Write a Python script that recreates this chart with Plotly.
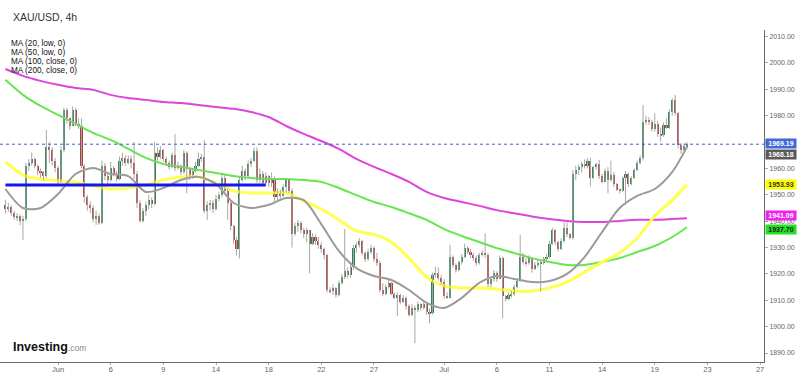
import plotly.graph_objects as go

# ---------------- data ----------------
TITLE = "XAU/USD, 4h"
MA_LABELS = ["MA (20, low, 0)", "MA (50, low, 0)", "MA (100, close, 0)", "MA (200, close, 0)"]

FIRST_OPEN = 1946.0
CLOSE = [1944.5, 1945.5, 1943, 1941.5, 1942, 1940, 1941, 1961, 1962, 1963.5,
         1961, 1959, 1958.5, 1957, 1968, 1967, 1963, 1960, 1955, 1967,
         1982, 1979, 1976, 1982, 1977, 1976, 1961, 1949, 1946, 1945,
         1941, 1942, 1939.5, 1961, 1957, 1955.5, 1960, 1958, 1956, 1963,
         1964, 1962, 1963.5, 1962, 1958, 1947, 1940, 1944, 1946, 1948,
         1946.5, 1966, 1964.3, 1967, 1963.7, 1962, 1960.5, 1965, 1960, 1961,
         1958.5, 1966, 1960, 1956.5, 1959, 1961, 1963.5, 1964.5, 1944, 1946,
         1947, 1944.5, 1948.5, 1950, 1956.5, 1951.5, 1947, 1938, 1933, 1929.5,
         1955.5, 1959, 1957, 1961.5, 1963, 1966.5, 1955.5, 1958, 1954.5, 1957,
         1954.5, 1956.5, 1949, 1951.5, 1949.5, 1953, 1955.5, 1951.5, 1935, 1938,
         1939.5, 1936.5, 1935, 1936.5, 1931.5, 1934, 1932.5, 1931, 1929.5, 1927,
         1914, 1913.5, 1914.5, 1912, 1916.5, 1919, 1921, 1919.5, 1922.5, 1930,
         1931, 1932.5, 1928, 1925.5, 1928.5, 1930, 1925.5, 1924, 1914, 1912.5,
         1915, 1916.5, 1912.5, 1911, 1912, 1909.5, 1911, 1908, 1904.5, 1907,
         1906.5, 1908.5, 1907, 1908.5, 1905.5, 1905, 1919.5, 1920.5, 1918.5, 1917,
         1911.5, 1911, 1926.5, 1923.5, 1921.5, 1924.5, 1926.5, 1930, 1928.5, 1927,
         1926, 1924, 1927, 1928, 1927, 1916, 1918, 1920.5, 1918, 1926,
         1911.5, 1910.5, 1912, 1912.5, 1915, 1917.5, 1926.5, 1924.5, 1924, 1926,
         1922, 1923.5, 1924, 1924, 1925.5, 1926.5, 1931.5, 1936.5, 1932, 1929.5,
         1932.5, 1937.5, 1935, 1933.5, 1958, 1959.5, 1960.5, 1961.5, 1961, 1963,
         1956.5, 1960.5, 1961.5, 1957, 1955, 1959, 1955.5, 1957.5, 1954, 1952,
         1951.5, 1956.5, 1958, 1954, 1956.5, 1959.5, 1962, 1964, 1977.7, 1978.5,
         1977.5, 1975, 1977, 1973, 1972.5, 1976.5, 1975.5, 1981.5, 1986, 1981,
         1969, 1967, 1968.5, 1969.19]
HIGH = [1948, 1947, 1946, 1944, 1943, 1942.5, 1942, 1962, 1963.5, 1966,
        1964, 1961.5, 1960, 1959, 1974.6, 1970, 1968, 1964, 1961, 1968.5,
        1983, 1983, 1979, 1983.5, 1983, 1979, 1979, 1961.5, 1950, 1947.5,
        1946, 1944, 1943, 1963, 1962, 1958, 1962.5, 1961, 1959, 1964.5,
        1966, 1965, 1965, 1965, 1970, 1959, 1948, 1945, 1947.5, 1950,
        1949, 1970, 1968, 1968.5, 1967.5, 1964.5, 1963, 1966, 1973, 1962.5,
        1961.5, 1967, 1966.5, 1960.5, 1960, 1962.5, 1966, 1965.5, 1970.8, 1947.5,
        1948, 1948, 1950, 1951, 1958, 1957.5, 1952.5, 1947.5, 1938.5, 1934,
        1957, 1961, 1960, 1963, 1964, 1968, 1968, 1960, 1959, 1958.5,
        1957.5, 1958.5, 1957, 1952.5, 1952, 1954, 1956, 1956, 1952.5, 1939.5,
        1940.5, 1940, 1937.5, 1937.5, 1936.5, 1935.5, 1935, 1934, 1932, 1930,
        1927.5, 1915, 1916, 1915, 1917.5, 1920, 1937, 1922.5, 1923.5, 1931,
        1932, 1933.6, 1933, 1928.5, 1929.5, 1931, 1930.5, 1928, 1925, 1916.5,
        1916, 1918, 1917, 1913, 1913, 1912.5, 1912, 1911.5, 1908.5, 1908.5,
        1908, 1909.5, 1909, 1909.5, 1909, 1907, 1920.5, 1922.7, 1922.5, 1919.5,
        1918, 1913, 1931, 1927, 1924, 1925, 1927.5, 1931.5, 1930.5, 1929.5,
        1928, 1927, 1928, 1929, 1935.4, 1928, 1919, 1921.5, 1921, 1927,
        1926.5, 1912, 1913, 1913.5, 1916, 1918.5, 1934.8, 1928, 1926, 1927,
        1925, 1924.5, 1925.5, 1925, 1926.5, 1927.5, 1932.5, 1937.5, 1937, 1932.5,
        1933.5, 1939.5, 1939.5, 1935.5, 1959.5, 1961, 1961.5, 1962.5, 1963.5, 1964,
        1964, 1961, 1962, 1963.2, 1958, 1960, 1960.5, 1963, 1958.5, 1954.5,
        1952.5, 1957, 1959, 1958.5, 1957, 1960, 1963, 1965, 1984.1, 1980,
        1979.5, 1978.5, 1980.9, 1978, 1975.5, 1977.5, 1979, 1982.5, 1986.5, 1987.9,
        1981.5, 1969.5, 1969.5, 1970]
LOW = [1943, 1943.5, 1942, 1940.5, 1940, 1938.5, 1932.9, 1940, 1959, 1961,
       1960, 1957.5, 1956.5, 1955.5, 1956.5, 1962, 1961, 1958.5, 1954, 1954.5,
       1966, 1977, 1974.6, 1976, 1976, 1975, 1960, 1947, 1944, 1943,
       1939.5, 1938.6, 1938.6, 1939, 1955.5, 1954, 1955, 1957, 1955, 1955.5,
       1961, 1961, 1961.5, 1960, 1956, 1945, 1939.5, 1939.5, 1942, 1944.5,
       1945, 1946, 1963, 1963.5, 1962.5, 1961, 1959.5, 1960, 1959, 1959.5,
       1957.5, 1958, 1950.5, 1955.5, 1956, 1958.5, 1960.5, 1962.5, 1943, 1940.5,
       1944, 1943, 1944, 1947.5, 1949, 1950, 1940.5, 1936.5, 1931.5, 1927,
       1925.9, 1955, 1955.5, 1956.5, 1960.5, 1962.5, 1954.5, 1954.5, 1953.5, 1953.5,
       1953, 1953, 1947.5, 1947.5, 1948.5, 1949, 1951, 1950.5, 1930, 1934.5,
       1936, 1935.5, 1933.5, 1932, 1920.2, 1931, 1931, 1929.5, 1928, 1925.5,
       1913, 1912.5, 1912, 1911, 1911.5, 1916, 1918, 1918.5, 1918.5, 1921.5,
       1928, 1930, 1927, 1924.5, 1925, 1927.5, 1924.5, 1923, 1913, 1911.5,
       1912, 1914.5, 1912, 1910.5, 1904, 1908.5, 1909, 1906.5, 1903.8, 1904,
       1893.7, 1905.5, 1906, 1906.5, 1904.5, 1901.3, 1904.5, 1918.5, 1917.5, 1916,
       1910.5, 1910.5, 1911, 1922.5, 1920.5, 1921, 1923.5, 1926, 1927.5, 1926,
       1925, 1923, 1923.5, 1926.5, 1926, 1915, 1915, 1917, 1917, 1918,
       1903.2, 1909.5, 1910, 1911, 1911.5, 1914.5, 1917, 1923.5, 1923, 1923.5,
       1920.5, 1921.5, 1922.5, 1913.3, 1923.5, 1924.5, 1926, 1931, 1931, 1928.5,
       1929, 1932, 1934, 1933, 1933, 1955.5, 1957.5, 1958.5, 1960, 1960,
       1953.1, 1956, 1959.5, 1956, 1954.5, 1955, 1950.6, 1955, 1953, 1951.5,
       1950.5, 1951, 1946.1, 1953, 1953.5, 1956, 1959, 1961.5, 1963, 1976.5,
       1976.5, 1974, 1974, 1972, 1970.2, 1972, 1975, 1975, 1980, 1980,
       1967.5, 1965.5, 1966, 1967.5]

# tick labels on the time axis (bar index where each day starts)
TICK_BARS = [18, 36, 54, 72, 90, 108, 126, 150, 168, 186, 204, 222, 240, 258]
TICK_TEXT = ["Jun", "6", "9", "14", "18", "22", "27", "Jul", "6", "11", "14", "19", "23", "27"]
Y_TICKS = [1890, 1900, 1910, 1920, 1930, 1940, 1950, 1960, 1970, 1980, 1990, 2000, 2010]

# moving averages, read once per trading day
MA_X = [0, 6, 12, 18, 24, 30, 36, 42, 48, 54, 60, 66, 72, 78, 84, 90, 96, 102, 108, 114,
        120, 126, 132, 138, 144, 150, 156, 162, 168, 174, 180, 186, 192, 198, 204, 210,
        216, 222, 228, 233]
MA20_LOW = [1952.2, 1945.0, 1945.0, 1950.3, 1957.9, 1960.2, 1957.9, 1957.1, 1951.1, 1952.6,
            1955.6, 1956.8, 1954.1, 1946.9, 1945.0, 1946.2, 1948.8, 1948.0, 1938.9, 1928.7,
            1922.2, 1919.2, 1917.7, 1913.9, 1909.0, 1907.1, 1910.9, 1916.6, 1919.2, 1918.1,
            1916.9, 1917.3, 1920.0, 1926.4, 1935.9, 1945.0, 1949.6, 1952.2, 1958.7, 1968.18]
MA50_LOW = [1962.5, 1957.5, 1956.0, 1955.3, 1954.9, 1953.4, 1952.2, 1952.6, 1953.7, 1955.6,
            1956.8, 1956.8, 1954.5, 1951.5, 1950.7, 1950.7, 1950.7, 1947.7, 1944.6, 1940.5,
            1936.3, 1935.0, 1932.0, 1926.0, 1918.8, 1915.5, 1914.7, 1914.7, 1914.3, 1913.5,
            1913.5, 1914.7, 1916.9, 1920.7, 1924.5, 1927.9, 1933.6, 1942.0, 1948.0, 1953.93]
MA100_CLOSE = [1993.6, 1987.9, 1983.7, 1980.3, 1976.9, 1973.5, 1970.8, 1967.4, 1964.0, 1961.7,
               1960.6, 1959.4, 1958.3, 1957.1, 1956.4, 1956.0, 1956.0, 1955.6, 1954.9, 1952.6,
               1949.9, 1947.3, 1945.4, 1943.0, 1940.5, 1937.0, 1934.4, 1932.1, 1929.8, 1927.9,
               1926.0, 1924.5, 1923.4, 1923.4, 1924.5, 1926.0, 1928.3, 1930.6, 1934.0, 1937.70]
MA200_CLOSE = [1997.7, 1995.1, 1993.2, 1991.7, 1990.5, 1989.8, 1987.9, 1986.7, 1986.0, 1985.2,
               1984.8, 1984.1, 1983.3, 1982.6, 1981.4, 1979.5, 1976.1, 1973.1, 1970.4, 1967.4,
               1963.6, 1960.6, 1957.9, 1954.9, 1951.1, 1948.8, 1947.3, 1945.8, 1944.2, 1943.0,
               1941.8, 1940.8, 1940.1, 1939.7, 1939.7, 1940.1, 1940.5, 1940.5, 1940.8, 1941.09]

LEVEL_PRICE = 1953.7          # user-drawn horizontal level
LEVEL_FROM, LEVEL_TO = 0, 89  # bar span of that level

# ---------------- styles ----------------
UP = "#2a8451"
DOWN = "#ad3f3b"
WICK = "#a8a8a8"
C_MA20 = "#9a9a9a"
C_MA50 = "#ffff4d"
C_MA100 = "#66e64d"
C_MA200 = "#dd44dd"
FONT = "Arial, Liberation Sans, sans-serif"

n = len(CLOSE)
xs = list(range(n))
opens = [FIRST_OPEN] + CLOSE[:-1]
highs = [max(h, o, c) for h, o, c in zip(HIGH, opens, CLOSE)]
lows = [min(l, o, c) for l, o, c in zip(LOW, opens, CLOSE)]

fig = go.Figure()

# moving averages (under the candles)
for ys, col, w in [(MA200_CLOSE, C_MA200, 2), (MA100_CLOSE, C_MA100, 2),
                   (MA50_LOW, C_MA50, 3), (MA20_LOW, C_MA20, 2)]:
    fig.add_trace(go.Scatter(x=MA_X, y=ys, mode="lines",
                             line=dict(color=col, width=w, shape="spline", smoothing=0.8),
                             hoverinfo="skip"))

# wicks
wx, wy = [], []
for i in xs:
    wx += [i, i, None]
    wy += [lows[i], highs[i], None]
fig.add_trace(go.Scatter(x=wx, y=wy, mode="lines", line=dict(color=WICK, width=1),
                         hoverinfo="skip"))

# bodies
bases = [min(o, c) for o, c in zip(opens, CLOSE)]
sizes = [max(abs(c - o), 0.25) for o, c in zip(opens, CLOSE)]
cols = [UP if c >= o else DOWN for o, c in zip(opens, CLOSE)]
fig.add_trace(go.Bar(x=xs, y=sizes, base=bases, width=0.72,
                     marker=dict(color=cols, line=dict(width=0)), hoverinfo="skip"))

# horizontal level drawn by the user
fig.add_trace(go.Scatter(x=[LEVEL_FROM, LEVEL_TO], y=[LEVEL_PRICE, LEVEL_PRICE], mode="lines",
                         line=dict(color="#1515f0", width=3), hoverinfo="skip"))

# last price dotted line
fig.add_shape(type="line", xref="paper", x0=0, x1=1, yref="y",
              y0=CLOSE[-1], y1=CLOSE[-1], line=dict(color="#3d5fd0", width=1, dash="dot"))

# right-side value tags
tags = [(CLOSE[-1], "#4169d6", "white", 1),
        (MA20_LOW[-1], "#5a5a5a", "white", -8),
        (MA50_LOW[-1], "#ffff00", "#333333", 0),
        (MA200_CLOSE[-1], "#ee22ee", "white", 2.5),
        (MA100_CLOSE[-1], "#22e022", "#1a1a1a", -2)]
for val, bg, fc, ysh in tags:
    fig.add_annotation(x=1, xref="paper", y=val, yref="y", xanchor="left", yanchor="middle",
                       text=f"<b>{val:.2f}</b>", showarrow=False, bgcolor=bg, borderpad=0,
                       height=9, width=30,
                       font=dict(size=7, color=fc, family=FONT), xshift=1, yshift=ysh)

PW, PT, PB = 764, 30, 362  # plot box in px for placing text


def px(xp, yp):
    return xp / PW, (PB - yp) / (PB - PT)


tx, ty = px(12, 17)
fig.add_annotation(x=tx, y=ty, xref="paper", yref="paper", xanchor="left", yanchor="middle",
                   text=TITLE, showarrow=False, borderpad=0,
                   font=dict(size=10.5, color="#333333", family=FONT))
for k, lab in enumerate(MA_LABELS):
    lx, ly = px(10, 44 + k * 8.7)
    fig.add_annotation(x=lx, y=ly, xref="paper", yref="paper", xanchor="left", yanchor="middle",
                       text=lab, showarrow=False, borderpad=0,
                       font=dict(size=8.2, color="#111111", family=FONT))
ix, iy = px(12, 347)
fig.add_annotation(x=ix, y=iy, xref="paper", yref="paper", xanchor="left", yanchor="middle",
                   text="<b>Investing</b><span style='font-size:8.5px;color:#888888'>.com</span>",
                   showarrow=False, borderpad=0,
                   font=dict(size=12.5, color="#111111", family=FONT))

fig.update_layout(
    width=797, height=373,
    margin=dict(l=0, r=33, t=PT, b=373 - PB, autoexpand=False),
    paper_bgcolor="white", plot_bgcolor="white",
    showlegend=False, bargap=0,
    xaxis=dict(range=[-1.85, 259.35], tickmode="array", tickvals=TICK_BARS, ticktext=TICK_TEXT,
               showline=True, linecolor="#6a6a6a", linewidth=1, ticks="outside", ticklen=2,
               tickcolor="#aaaaaa", tickfont=dict(size=7.5, color="#666666", family=FONT),
               ticklabelstandoff=-2, automargin=False,
               showgrid=False, zeroline=False),
    yaxis=dict(range=[1886.6, 2012.5], side="right", tickmode="array", tickvals=Y_TICKS,
               tickformat=".2f", showline=True, linecolor="#6a6a6a", linewidth=1,
               ticks="outside", ticklen=3, tickcolor="#aaaaaa",
               tickfont=dict(size=7, color="#666666", family=FONT), automargin=False,
               showgrid=False, zeroline=False),
)

fig.write_html("out.html", config={"displayModeBar": False},
               post_script="document.body.style.margin='0';document.body.style.overflow='hidden';")
